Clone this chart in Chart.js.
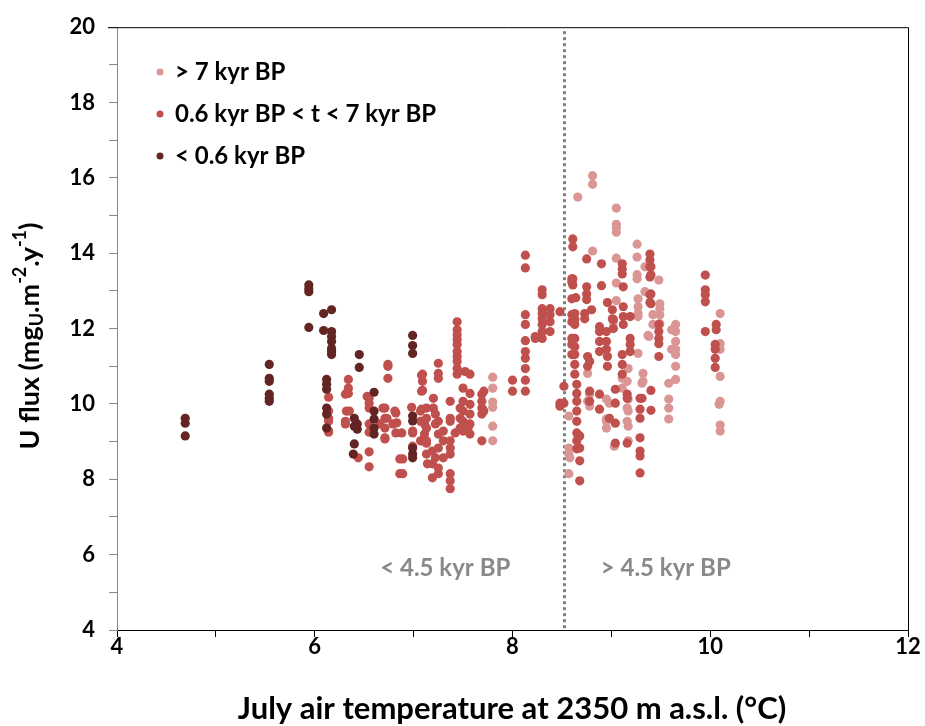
<!DOCTYPE html>
<html>
<head>
<meta charset="utf-8">
<script src="https://cdn.jsdelivr.net/npm/chart.js@4.4.1/dist/chart.umd.min.js"></script>
<style>
  html, body { margin: 0; padding: 0; background: #fff; }
</style>
</head>
<body>
<canvas id="scatter" width="925" height="726"></canvas>
<script>
// series names and colours, in legend order
const seriesLabels = ['> 7 kyr BP', '0.6 kyr BP < t < 7 kyr BP', '< 0.6 kyr BP']
const seriesColors = ['#DA9694', '#C0504D', '#632523']

// [July temperature (°C), U flux]
const olderPoints = [
  [7.80, 10.71], [7.80, 10.42], [7.80, 10.05], [7.80, 9.91], [7.80, 9.41], [7.80, 9.02],
  [8.57, 9.68], [8.57, 8.83], [8.57, 8.67], [8.58, 8.57], [8.57, 8.15],
  [8.81, 16.06], [8.81, 15.83], [8.66, 15.49],
  [9.05, 15.20], [9.05, 14.77], [9.05, 14.68], [9.05, 14.56],
  [8.81, 14.06], [9.26, 14.24], [9.26, 13.90], [9.05, 13.87], [9.05, 13.21],
  [9.26, 13.43], [9.26, 13.32], [9.34, 13.64], [9.48, 13.29], [9.34, 12.98], [9.05, 12.74],
  [9.27, 12.79], [9.27, 12.58], [9.27, 12.40], [9.27, 12.32],
  [9.49, 12.66], [9.49, 12.53], [9.49, 12.37], [9.49, 12.13],
  [9.42, 12.37], [9.42, 12.11], [9.02, 12.18],
  [9.65, 12.11], [9.65, 11.92], [9.65, 11.66], [9.65, 11.45], [9.65, 11.31], [9.65, 11.00], [9.65, 10.65],
  [9.61, 11.97], [9.61, 11.45], [9.37, 11.82], [9.38, 11.79], [9.27, 11.34],
  [10.10, 12.40], [10.10, 11.60], [10.10, 11.45], [10.10, 10.73], [10.10, 10.07],
  [10.09, 9.99], [10.10, 9.44], [10.10, 9.28],
  [9.58, 10.55], [9.58, 10.13], [9.58, 9.89], [9.58, 9.60],
  [9.32, 10.81], [9.32, 10.60], [9.31, 10.55],
  [8.76, 10.81], [8.76, 10.07], [8.78, 10.26], [8.78, 9.94], [8.98, 10.02],
  [8.95, 10.13], [8.95, 9.60], [8.95, 9.36], [8.95, 9.54],
  [9.17, 10.94], [9.17, 10.13], [9.17, 9.81], [9.17, 9.41], [9.17, 9.02],
  [9.16, 10.60], [9.16, 9.89], [9.16, 9.54], [9.03, 8.88],
  [9.11, 10.68], [9.11, 10.42]
]

const middlePoints = [
  [6.14, 10.18], [6.14, 9.81], [6.14, 9.62], [6.14, 9.54], [6.14, 9.28], [6.14, 9.25],
  [6.34, 10.65], [6.34, 10.42], [6.34, 10.28],
  [6.31, 10.26], [6.31, 9.47], [6.32, 9.81], [6.35, 9.81], [6.31, 9.54], [6.44, 8.57],
  [6.53, 10.20], [6.55, 10.15], [6.55, 10.02], [6.55, 9.89], [6.55, 9.47], [6.55, 9.25],
  [6.55, 8.73], [6.55, 8.33],
  [6.71, 9.89], [6.71, 9.62], [6.71, 9.36], [6.71, 9.07], [6.66, 9.47],
  [6.74, 11.05], [6.74, 11.00], [6.74, 10.68],
  [6.82, 9.76], [6.82, 9.23], [6.83, 9.50], [6.86, 8.54], [6.86, 8.15], [6.88, 9.23],
  [6.73, 9.62], [6.69, 9.89], [6.71, 9.10], [6.81, 9.81], [6.79, 9.47],
  [6.89, 8.54], [6.89, 8.15],
  [6.98, 9.91], [6.99, 9.23], [6.99, 9.28], [6.99, 8.88],
  [7.08, 10.76], [7.08, 10.34], [7.08, 9.86], [7.08, 9.54], [7.08, 9.02],
  [7.09, 10.79], [7.09, 10.60], [7.09, 10.36],
  [7.07, 9.81], [7.07, 9.54], [7.07, 9.02], [7.11, 9.47], [7.11, 9.20], [7.14, 8.41],
  [7.20, 10.15], [7.20, 9.89],
  [7.13, 9.89], [7.13, 9.62], [7.13, 9.36], [7.13, 8.96], [7.13, 9.02], [7.13, 8.67],
  [7.19, 8.75], [7.19, 8.41], [7.19, 8.04],
  [7.25, 11.08], [7.25, 10.81], [7.25, 10.68],
  [7.25, 9.54], [7.25, 9.20], [7.25, 8.83], [7.25, 8.30], [7.25, 8.15],
  [7.22, 9.73], [7.22, 9.47], [7.22, 8.57],
  [7.30, 9.28], [7.30, 9.02], [7.30, 8.57],
  [7.37, 10.07], [7.37, 9.62], [7.37, 9.54], [7.37, 9.02], [7.37, 8.83], [7.37, 8.67],
  [7.37, 8.15], [7.37, 7.96], [7.37, 7.75],
  [7.44, 12.18], [7.44, 11.97], [7.44, 11.84], [7.44, 11.71], [7.44, 11.58], [7.44, 11.39],
  [7.44, 11.26], [7.44, 11.13], [7.44, 10.94], [7.44, 10.79],
  [7.52, 10.86], [7.57, 10.79],
  [7.50, 10.42], [7.50, 10.07], [7.50, 9.81], [7.50, 9.54], [7.50, 9.28],
  [7.47, 9.89], [7.47, 9.62], [7.47, 9.36],
  [7.57, 10.28], [7.57, 9.99], [7.57, 9.73], [7.57, 9.47], [7.57, 9.20],
  [7.55, 9.36], [7.42, 9.23],
  [7.69, 10.26], [7.69, 10.07], [7.69, 9.89], [7.69, 9.73], [7.71, 10.34], [7.71, 9.81],
  [7.69, 9.02], [7.70, 9.86],
  [8.00, 10.63], [8.00, 10.34],
  [8.13, 13.95], [8.13, 13.61], [8.13, 12.37], [8.13, 12.11], [8.13, 11.68], [8.13, 11.39],
  [8.13, 11.21], [8.13, 10.94], [8.13, 10.63], [8.13, 10.34],
  [8.23, 11.79], [8.23, 11.74],
  [8.30, 13.03], [8.30, 12.90], [8.30, 12.53], [8.30, 12.40], [8.30, 12.26], [8.30, 12.11],
  [8.30, 11.92], [8.30, 11.74],
  [8.38, 12.53], [8.38, 12.37], [8.38, 12.18], [8.38, 11.92],
  [8.48, 12.45], [8.48, 10.02], [8.48, 9.94],
  [8.60, 13.32], [8.60, 13.24], [8.60, 12.79], [8.60, 12.37], [8.60, 12.18], [8.60, 11.74],
  [8.60, 11.58], [8.60, 11.31],
  [8.61, 14.38], [8.61, 14.17], [8.75, 13.85], [8.90, 13.72],
  [9.11, 13.72], [9.11, 13.58], [9.11, 13.45],
  [9.39, 13.98], [9.39, 13.82], [9.39, 13.64], [9.39, 13.37],
  [8.61, 13.32], [8.61, 13.16], [8.75, 13.11], [8.75, 12.92], [8.75, 12.77],
  [8.90, 13.14], [9.12, 13.11], [8.64, 12.82], [8.96, 12.69],
  [9.39, 12.90], [9.39, 12.69],
  [8.63, 12.40], [8.63, 12.24], [8.63, 12.11], [8.73, 12.40], [8.73, 12.26], [8.80, 12.50],
  [9.01, 12.50], [9.01, 12.26], [9.12, 12.58], [9.12, 12.32], [9.12, 12.11],
  [8.88, 12.05], [8.88, 11.92], [8.88, 11.66], [8.88, 11.39],
  [8.95, 11.92], [8.95, 11.66], [8.95, 11.45], [9.02, 12.24], [9.02, 12.00],
  [9.19, 11.74], [9.19, 11.58], [9.19, 12.32], [9.19, 11.39],
  [8.63, 11.74], [8.63, 11.52], [8.63, 11.31], [8.63, 11.05], [8.63, 10.79],
  [8.76, 11.26], [8.76, 11.00], [8.96, 11.26], [8.96, 11.00],
  [9.11, 11.31], [9.11, 11.05], [9.11, 10.79],
  [8.65, 10.52], [8.65, 10.28], [8.65, 10.07], [8.65, 9.81], [8.65, 9.54], [8.65, 9.23],
  [8.65, 9.02], [8.65, 8.81],
  [8.52, 10.47], [8.52, 10.02],
  [8.78, 11.13], [8.78, 10.34], [8.78, 10.07],
  [8.88, 10.26], [8.88, 9.86], [8.98, 9.62],
  [9.04, 10.39], [9.04, 10.02], [9.04, 9.49], [9.04, 8.96],
  [9.16, 10.26], [9.16, 10.15], [9.16, 8.96],
  [9.29, 10.15], [9.29, 9.86], [9.29, 9.62], [9.29, 9.10], [9.29, 8.75], [9.29, 8.62], [9.29, 8.17],
  [9.40, 10.36], [9.40, 9.83], [9.31, 10.15],
  [8.68, 9.15], [8.68, 8.83], [8.68, 8.49], [8.68, 7.96],
  [9.40, 13.64], [9.40, 13.43], [9.40, 12.92], [9.40, 12.66],
  [9.48, 12.11], [9.48, 11.92], [9.48, 11.74], [9.48, 11.60], [9.48, 11.26],
  [9.95, 13.42], [9.95, 13.03], [9.95, 12.90], [9.95, 12.71], [9.95, 11.92],
  [10.06, 12.11], [10.06, 11.97],
  [10.05, 11.58], [10.05, 11.45], [10.05, 11.21], [10.05, 10.97]
]

const recentPoints = [
  [4.69, 9.62], [4.69, 9.49], [4.69, 9.15],
  [5.54, 11.05], [5.54, 10.68], [5.54, 10.60], [5.54, 10.26], [5.54, 10.15], [5.54, 10.07],
  [5.94, 13.16], [5.94, 13.06], [5.94, 12.98], [5.94, 12.03],
  [6.09, 12.40], [6.09, 11.95],
  [6.17, 12.50], [6.17, 11.92], [6.17, 11.79], [6.17, 11.66], [6.17, 11.47], [6.17, 11.39], [6.17, 11.31],
  [6.12, 10.65], [6.12, 10.52], [6.12, 10.39], [6.12, 9.89], [6.12, 9.73], [6.12, 9.36],
  [6.45, 11.31], [6.45, 10.97],
  [6.40, 9.62], [6.43, 9.47], [6.40, 9.41], [6.43, 9.33], [6.40, 8.94], [6.39, 8.67],
  [6.60, 10.31], [6.60, 9.81], [6.60, 9.60], [6.60, 9.36], [6.60, 9.20],
  [6.99, 11.82], [6.99, 11.55], [6.99, 11.34], [6.99, 9.68], [6.99, 9.55],
  [6.99, 8.83], [6.99, 8.67], [6.99, 8.57]
]

const xTickValues = [4, 6, 8, 10, 12]
const yTickValues = [4, 6, 8, 10, 12, 14, 16, 18, 20]
const boundaryTemp = 8.52
const periodNotes = ['< 4.5 kyr BP', '> 4.5 kyr BP']

const FONT = 'Lato, "Open Sans", sans-serif'

const toXY = pts => pts.map(p => ({ x: p[0], y: p[1] }))

// dotted line, notes, frame, legend and y title
const extras = {
  id: 'extras',
  beforeDatasetsDraw (chart) {
    const { ctx, chartArea, scales } = chart
    const x = Math.round(scales.x.getPixelForValue(boundaryTemp)) + 0.5
    ctx.save()
    ctx.strokeStyle = '#808080'
    ctx.lineWidth = 3
    ctx.setLineDash([3, 3])
    ctx.beginPath()
    ctx.moveTo(x, chartArea.top + 4)
    ctx.lineTo(x, chartArea.bottom)
    ctx.stroke()
    ctx.restore()
  },
  afterDraw (chart) {
    const { ctx, chartArea, scales } = chart

    ctx.save()
    // frame top and right
    ctx.strokeStyle = '#000'
    ctx.lineWidth = 1
    ctx.beginPath()
    ctx.moveTo(chartArea.left - 9, chartArea.top + 0.5)
    ctx.lineTo(chartArea.right + 0.5, chartArea.top + 0.5)
    ctx.lineTo(chartArea.right + 0.5, chartArea.bottom)
    ctx.stroke()

    // period notes
    ctx.fillStyle = '#898989'
    ctx.font = 'bold 24px ' + FONT
    ctx.textAlign = 'center'
    ctx.textBaseline = 'middle'
    const ny = scales.y.getPixelForValue(5.64)
    ctx.fillText(periodNotes[0], scales.x.getPixelForValue(7.32), ny)
    ctx.fillText(periodNotes[1], scales.x.getPixelForValue(9.55), ny)

    // legend
    ctx.textAlign = 'left'
    ctx.font = 'bold 24px ' + FONT
    seriesLabels.forEach((label, i) => {
      const ly = 72 + i * 42
      ctx.fillStyle = seriesColors[i]
      ctx.beginPath()
      ctx.arc(160, ly, 3.5, 0, Math.PI * 2)
      ctx.fill()
      ctx.fillStyle = '#000'
      ctx.fillText(label, 175, ly)
    })

    // x title
    ctx.font = 'bold 31px ' + FONT
    ctx.textAlign = 'center'
    ctx.fillText('July air temperature at 2350 m a.s.l. (°C)', 512, 709)

    // y title with sub/superscripts
    const parts = [
      ['U flux (mg', 0, 27], ['U', 7, 18], ['.m', 0, 27], ['-2', -10, 18],
      ['.y', 0, 27], ['-1', -10, 18], [')', 0, 27]
    ]
    ctx.translate(30, 336)
    ctx.rotate(-Math.PI / 2)
    ctx.textAlign = 'left'
    let total = 0
    parts.forEach(p => {
      ctx.font = 'bold ' + p[2] + 'px ' + FONT
      total += ctx.measureText(p[0]).width
    })
    let cx = -total / 2
    parts.forEach(p => {
      ctx.font = 'bold ' + p[2] + 'px ' + FONT
      ctx.fillText(p[0], cx, p[1])
      cx += ctx.measureText(p[0]).width
    })
    ctx.restore()
  }
}

const datasets = [olderPoints, middlePoints, recentPoints].map((pts, i) => ({
  label: seriesLabels[i],
  data: toXY(pts),
  backgroundColor: seriesColors[i],
  borderWidth: 0,
  pointRadius: 4.6,
  pointHoverRadius: 4.6,
  order: 3 - i
}))

// eslint-disable-next-line no-unused-vars, no-undef
const chart = new Chart(document.querySelector('#scatter'), {
  type: 'scatter',
  data: { datasets },
  options: {
    responsive: false,
    animation: false,
    devicePixelRatio: 1,
    layout: { padding: { top: 24, right: 17, left: 0, bottom: 0 } },
    scales: {
      x: {
        type: 'linear',
        min: 4,
        max: 12,
        afterFit: scale => { scale.height = 96 },
        ticks: {
          stepSize: 1,
          autoSkip: false,
          maxRotation: 0,
          padding: -3,
          color: '#000',
          font: { family: FONT, size: 22, weight: 'bold' },
          callback: v => xTickValues.includes(v) ? v : ''
        },
        grid: { drawOnChartArea: false, drawTicks: true, tickLength: 7, color: '#000' },
        border: { display: true, color: '#000' }
      },
      y: {
        min: 4,
        max: 20,
        afterFit: scale => { scale.width = 117 },
        ticks: {
          stepSize: 1,
          autoSkip: false,
          padding: 14,
          color: '#000',
          font: { family: FONT, size: 22, weight: 'bold' },
          callback: v => yTickValues.includes(v) ? v : ''
        },
        grid: { drawOnChartArea: false, drawTicks: true, tickLength: 8, color: '#888' },
        border: { display: true, color: '#888' }
      }
    },
    plugins: {
      legend: { display: false },
      tooltip: { enabled: false }
    }
  },
  plugins: [extras]
})
</script>
</body>
</html>
